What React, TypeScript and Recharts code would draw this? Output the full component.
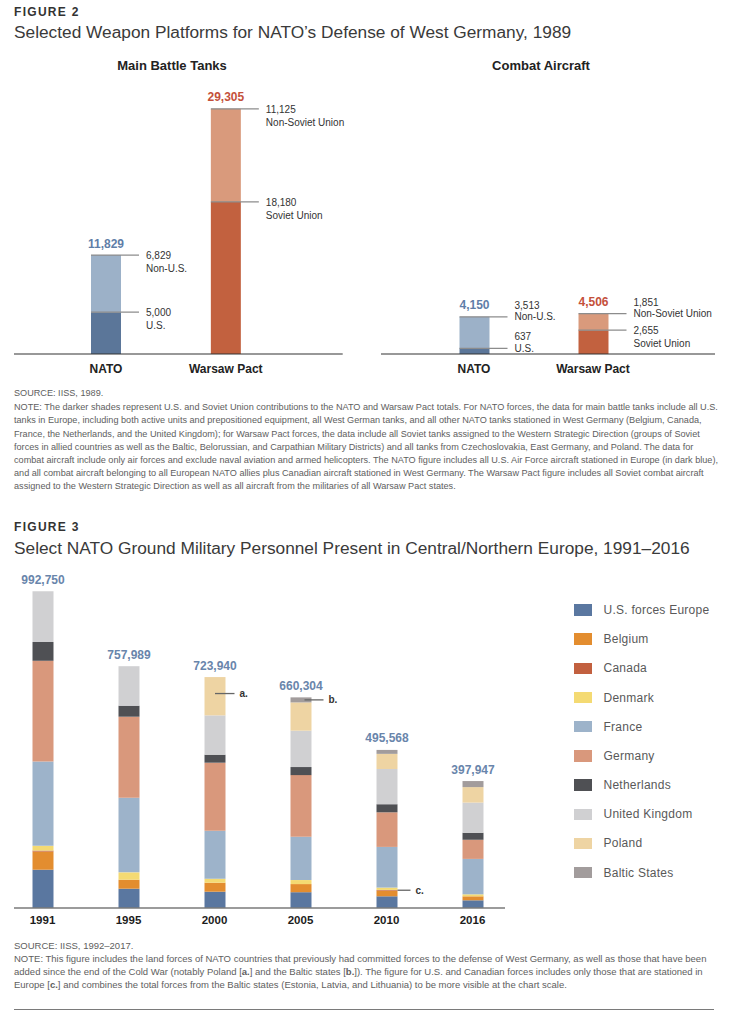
import React from 'react';
import { BarChart, Bar, XAxis, YAxis, LabelList, Cell, Legend } from 'recharts';

const FONT = '"Liberation Sans", Arial, Helvetica, sans-serif';

// ---------------- Figure 2 data ----------------
const platformCategories = ['NATO', 'Warsaw Pact'];
const tankDarkShare = [5000, 18180];
const tankLightShare = [6829, 11125];
const tankTotals = [11829, 29305];
const aircraftDarkShare = [637, 2655];
const aircraftLightShare = [3513, 1851];
const aircraftTotals = [4150, 4506];
const darkShareNames = ['U.S.', 'Soviet Union'];
const lightShareNames = ['Non-U.S.', 'Non-Soviet Union'];

// ---------------- Figure 3 data ----------------
const years = ['1991', '1995', '2000', '2005', '2010', '2016'];
const personnelTotals = [992750, 757989, 723940, 660304, 495568, 397947];
const usForcesEurope = [120000, 60500, 51100, 49500, 36700, 24100];
const belgium = [57000, 28200, 28200, 25500, 18000, 12500];
const canada = [3000, 0, 0, 0, 2000, 0];
const denmark = [15000, 23000, 12500, 12600, 7300, 6300];
const france = [264000, 234000, 150500, 136000, 127500, 111000];
const germany = [316000, 254000, 213200, 193000, 108500, 60000];
const netherlands = [59000, 34500, 25100, 25300, 25300, 22000];
const unitedKingdom = [158750, 123789, 123200, 114000, 110500, 94500];
const poland = [0, 0, 120140, 88600, 47368, 48547];
const balticStates = [0, 0, 0, 15804, 12400, 19000];

// ---------------- styles ----------------
const DARK_FILLS = ['#5b7699', '#c2613f'];
const LIGHT_FILLS = ['#9cb1c8', '#d99a7c'];
const TOTAL_COLORS = ['#5f7ea8', '#c4503a'];

const personnelSeries = [
  { key: 'us', name: 'U.S. forces Europe', values: usForcesEurope, color: '#5a77a0' },
  { key: 'belgium', name: 'Belgium', values: belgium, color: '#e38d2f' },
  { key: 'canada', name: 'Canada', values: canada, color: '#c2603f' },
  { key: 'denmark', name: 'Denmark', values: denmark, color: '#f4da73' },
  { key: 'france', name: 'France', values: france, color: '#9db3ca' },
  { key: 'germany', name: 'Germany', values: germany, color: '#d9987c' },
  { key: 'netherlands', name: 'Netherlands', values: netherlands, color: '#4f5054' },
  { key: 'uk', name: 'United Kingdom', values: unitedKingdom, color: '#d0d0d2' },
  { key: 'poland', name: 'Poland', values: poland, color: '#eed4a3' },
  { key: 'baltic', name: 'Baltic States', values: balticStates, color: '#a29c9c' },
];

const personnelRows = years.map((year, i) => {
  const row: any = { year, total: personnelTotals[i] };
  personnelSeries.forEach((s) => {
    row[s.key] = s.values[i];
  });
  return row;
});

const fmt = (v: any) => Number(v).toLocaleString('en-US');

const box = (p: any) => {
  const vb = p.viewBox && p.viewBox.width != null ? p.viewBox : p;
  return { x: Number(vb.x), y: Number(vb.y), width: Number(vb.width), height: Number(vb.height) };
};

// ---------------- Figure 2 labels ----------------
function SegmentLabel(props: any) {
  const { x, y, width } = box(props);
  const i = props.index;
  const mode = props.modes[i];
  const tx = x + width + 25;
  const numY = mode === 'above' ? y - 8 : y + 4;
  const nameY = mode === 'above' ? y + 3.3 : y + 16.8;
  return (
    <g>
      <line x1={x} x2={x + width + 18} y1={y} y2={y} stroke="#8c8c8c" strokeWidth={1.3} />
      <text x={tx} y={numY} fontSize={10} fill="#333" fontFamily={FONT}>
        {fmt(props.value)}
      </text>
      <text x={tx} y={nameY} fontSize={10} fill="#333" fontFamily={FONT}>
        {props.names[i]}
      </text>
    </g>
  );
}

function TotalText({ cx, top, value, color }: any) {
  return (
    <text x={cx} y={top - 7.5} textAnchor="middle" fontSize={12} fontWeight={700} fill={color} fontFamily={FONT}>
      {fmt(value)}
    </text>
  );
}

function PlatformChart(props: any) {
  const { left, width, plotLeft, plotRight, domainMax, padding, dark, light, totals, darkModes, lightModes } = props;
  const rows = platformCategories.map((name, i) => ({
    name,
    dark: dark[i],
    light: light[i],
    total: totals[i],
  }));
  return (
    <div style={{ position: 'absolute', left, top: 80 }}>
      <BarChart
        width={width}
        height={304}
        data={rows}
        margin={{ top: 23, right: left + width - plotRight, bottom: 0, left: plotLeft - left }}
      >
        <YAxis hide domain={[0, domainMax]} />
        <XAxis
          dataKey="name"
          height={30}
          interval={0}
          padding={padding}
          axisLine={{ stroke: '#333', strokeWidth: 1.2 }}
          tickLine={false}
          tickMargin={4}
          tick={{ fill: '#222', fontSize: 12, fontWeight: 700, fontFamily: FONT }}
        />
        <Bar dataKey="dark" stackId="s" barSize={30} isAnimationActive={false}>
          {rows.map((r, i) => (
            <Cell key={r.name} fill={DARK_FILLS[i]} />
          ))}
          <LabelList
            dataKey="dark"
            content={(p: any) => <SegmentLabel {...p} names={darkShareNames} modes={darkModes} />}
          />
        </Bar>
        <Bar dataKey="light" stackId="s" barSize={30} isAnimationActive={false}>
          {rows.map((r, i) => (
            <Cell key={r.name} fill={LIGHT_FILLS[i]} />
          ))}
          <LabelList
            dataKey="light"
            content={(p: any) => <SegmentLabel {...p} names={lightShareNames} modes={lightModes} />}
          />
          <LabelList
            dataKey="total"
            content={(p: any) => {
              const b = box(p);
              return <TotalText cx={b.x + b.width / 2} top={b.y} value={p.value} color={TOTAL_COLORS[p.index]} />;
            }}
          />
        </Bar>
      </BarChart>
    </div>
  );
}

// ---------------- Figure 3 annotations ----------------
const NOTE_MARKS: any = {
  a: { key: 'poland', year: '2000', from: 'center', yFrac: 0.43, ext: 9 },
  b: { key: 'baltic', year: '2005', from: 'inner', yFrac: 0.5, ext: 12 },
  c: { key: 'canada', year: '2010', from: 'edge', yFrac: 0.5, ext: 13 },
};

function noteMark(letter: string) {
  const cfg = NOTE_MARKS[letter];
  const row = personnelRows.find((r) => r.year === cfg.year);
  return (p: any) => {
    if (Number(p.value) !== row[cfg.key]) return null;
    const { x, y, width, height } = box(p);
    const ly = y + height * cfg.yFrac;
    const x1 = cfg.from === 'center' ? x + width / 2 : cfg.from === 'inner' ? x + width - 7 : x + width;
    const x2 = x + width + cfg.ext;
    return (
      <g>
        <line x1={x1} x2={x2} y1={ly} y2={ly} stroke="#666" strokeWidth={1.3} />
        <text x={x2 + 5} y={ly + 3.5} fontSize={10} fontWeight={700} fill="#333" fontFamily={FONT}>
          {letter + '.'}
        </text>
      </g>
    );
  };
}

// total label placed from the United Kingdom segment (present every year),
// lifted by the segments stacked above it using the bar's own pixel scale
function stackTotal(p: any) {
  const row = personnelRows.find((r) => r.uk === Number(p.value));
  if (!row) return null;
  const { x, y, width, height } = box(p);
  const k = height / row.uk;
  const top = y - (row.poland + row.baltic) * k;
  return <TotalText cx={x + width / 2} top={top} value={row.total} color="#6985ab" />;
}

function PersonnelLegend() {
  return (
    <div style={{ fontFamily: FONT }}>
      {personnelSeries.map((s) => (
        <div key={s.key} style={{ height: 29.2, display: 'flex', alignItems: 'center' }}>
          <div style={{ width: 18, height: 11.5, background: s.color }} />
          <div style={{ marginLeft: 11.5, fontSize: 12, color: '#595959', letterSpacing: 0.25, whiteSpace: 'nowrap' }}>
            {s.name}
          </div>
        </div>
      ))}
    </div>
  );
}

// ---------------- text blocks ----------------
const fig2NoteLines = [
  'NOTE:  The darker shades represent U.S. and Soviet Union contributions to the NATO and Warsaw Pact totals. For NATO forces, the data for main battle tanks include all U.S.',
  'tanks in Europe, including both active units and prepositioned equipment, all West German tanks, and all other NATO tanks stationed in West Germany (Belgium, Canada,',
  'France, the Netherlands, and the United Kingdom); for Warsaw Pact forces, the data include all Soviet tanks assigned to the Western Strategic Direction (groups of Soviet',
  'forces in allied countries as well as the Baltic, Belorussian, and Carpathian Military Districts) and all tanks from Czechoslovakia, East Germany, and Poland. The data for',
  'combat aircraft include only air forces and exclude naval aviation and armed helicopters. The NATO figure includes all U.S. Air Force aircraft stationed in Europe (in dark blue),',
  'and all combat aircraft belonging to all European NATO allies plus Canadian aircraft stationed in West Germany. The Warsaw Pact figure includes all Soviet combat aircraft',
  'assigned to the Western Strategic Direction as well as all aircraft from the militaries of all Warsaw Pact states.',
];

const noteStyle: any = {
  position: 'absolute',
  left: 14,
  lineHeight: '12px',
  color: '#5e5e5e',
  whiteSpace: 'nowrap',
  fontFamily: FONT,
};

function Line({ y, size, children }: any) {
  return <div style={{ ...noteStyle, fontSize: size, top: y - 6 }}>{children}</div>;
}

const figLabelStyle: any = {
  position: 'absolute',
  left: 14,
  fontSize: 12,
  lineHeight: '14px',
  fontWeight: 700,
  letterSpacing: 1.3,
  color: '#333',
  fontFamily: FONT,
};

const titleStyle: any = {
  position: 'absolute',
  left: 14,
  fontSize: 17.3,
  lineHeight: '20px',
  color: '#3a3a3a',
  whiteSpace: 'nowrap',
  fontFamily: FONT,
};

const subTitleStyle: any = {
  position: 'absolute',
  width: 200,
  textAlign: 'center',
  fontSize: 13,
  lineHeight: '16px',
  fontWeight: 700,
  color: '#222',
  fontFamily: FONT,
};

export default function App() {
  return (
    <div style={{ position: 'absolute', left: 0, top: 0, width: 731, height: 1019, background: '#fff', overflow: 'hidden' }}>
      {/* Figure 2 header */}
      <div style={{ ...figLabelStyle, top: 5.3 }}>FIGURE 2</div>
      <div style={{ ...titleStyle, top: 22.3 }}>Selected Weapon Platforms for NATO’s Defense of West Germany, 1989</div>
      <div style={{ ...subTitleStyle, left: 72, top: 57.7 }}>Main Battle Tanks</div>
      <div style={{ ...subTitleStyle, left: 441, top: 57.7 }}>Combat Aircraft</div>

      <PlatformChart
        left={0}
        width={360}
        plotLeft={14}
        plotRight={342.7}
        domainMax={30000}
        padding={{ left: 32, right: 57 }}
        dark={tankDarkShare}
        light={tankLightShare}
        totals={tankTotals}
        darkModes={['below', 'below']}
        lightModes={['below', 'below']}
      />
      <PlatformChart
        left={367}
        width={364}
        plotLeft={381}
        plotRight={715}
        domainMax={28000}
        padding={{ left: 33.5, right: 62.5 }}
        dark={aircraftDarkShare}
        light={aircraftLightShare}
        totals={aircraftTotals}
        darkModes={['above', 'below']}
        lightModes={['above', 'above']}
      />

      <Line y={392.7} size={9.15}>SOURCE: IISS, 1989.</Line>
      {fig2NoteLines.map((t, i) => (
        <Line key={i} y={407.3 + i * 13.17} size={9.15}>
          {t}
        </Line>
      ))}

      {/* Figure 3 header */}
      <div style={{ ...figLabelStyle, top: 519.7 }}>FIGURE 3</div>
      <div style={{ ...titleStyle, top: 538.3 }}>
        Select NATO Ground Military Personnel Present in Central/Northern Europe, 1991–2016
      </div>

      <div style={{ position: 'absolute', left: 0, top: 560 }}>
        <BarChart width={731} height={378} data={personnelRows} margin={{ top: 29, right: 226, bottom: 0, left: 14 }}>
          <YAxis hide domain={[0, 1000000]} />
          <XAxis
            dataKey="year"
            height={30}
            interval={0}
            padding={{ left: -14.5, right: -10.5 }}
            axisLine={{ stroke: '#7a7a7a', strokeWidth: 1.5 }}
            tickLine={false}
            tick={{ fill: '#1c1c1c', fontSize: 11.5, fontWeight: 700, fontFamily: FONT }}
          />
          {personnelSeries.map((s) => (
            <Bar
              key={s.key}
              dataKey={s.key}
              name={s.name}
              stackId="p"
              fill={s.color}
              barSize={21}
              isAnimationActive={false}
            >
              {s.key === 'canada' && <LabelList dataKey="canada" content={noteMark('c')} />}
              {s.key === 'poland' && <LabelList dataKey="poland" content={noteMark('a')} />}
              {s.key === 'baltic' && <LabelList dataKey="baltic" content={noteMark('b')} />}
              {s.key === 'uk' && <LabelList dataKey="uk" content={stackTotal} />}
            </Bar>
          ))}
          <Legend
            layout="vertical"
            align="center"
            verticalAlign="middle"
            wrapperStyle={{ left: 574, top: 35.4, width: 150 }}
            content={() => <PersonnelLegend />}
          />
        </BarChart>
      </div>

      <Line y={945.5} size={9.5}>SOURCE: IISS, 1992–2017.</Line>
      <Line y={959.3} size={9.5}>
        NOTE: This figure includes the land forces of NATO countries that previously had committed forces to the defense of West Germany, as well as those that have been
      </Line>
      <Line y={972.3} size={9.5}>
        added since the end of the Cold War (notably Poland [<b>a.</b>] and the Baltic states [<b>b.</b>]). The figure for U.S. and Canadian forces includes only those that are stationed in
      </Line>
      <Line y={985.3} size={9.5}>
        Europe [<b>c.</b>] and combines the total forces from the Baltic states (Estonia, Latvia, and Lithuania) to be more visible at the chart scale.
      </Line>
      <div style={{ position: 'absolute', left: 14, top: 1009.3, width: 700, borderTop: '1.5px solid #7a7a7a' }} />
    </div>
  );
}
